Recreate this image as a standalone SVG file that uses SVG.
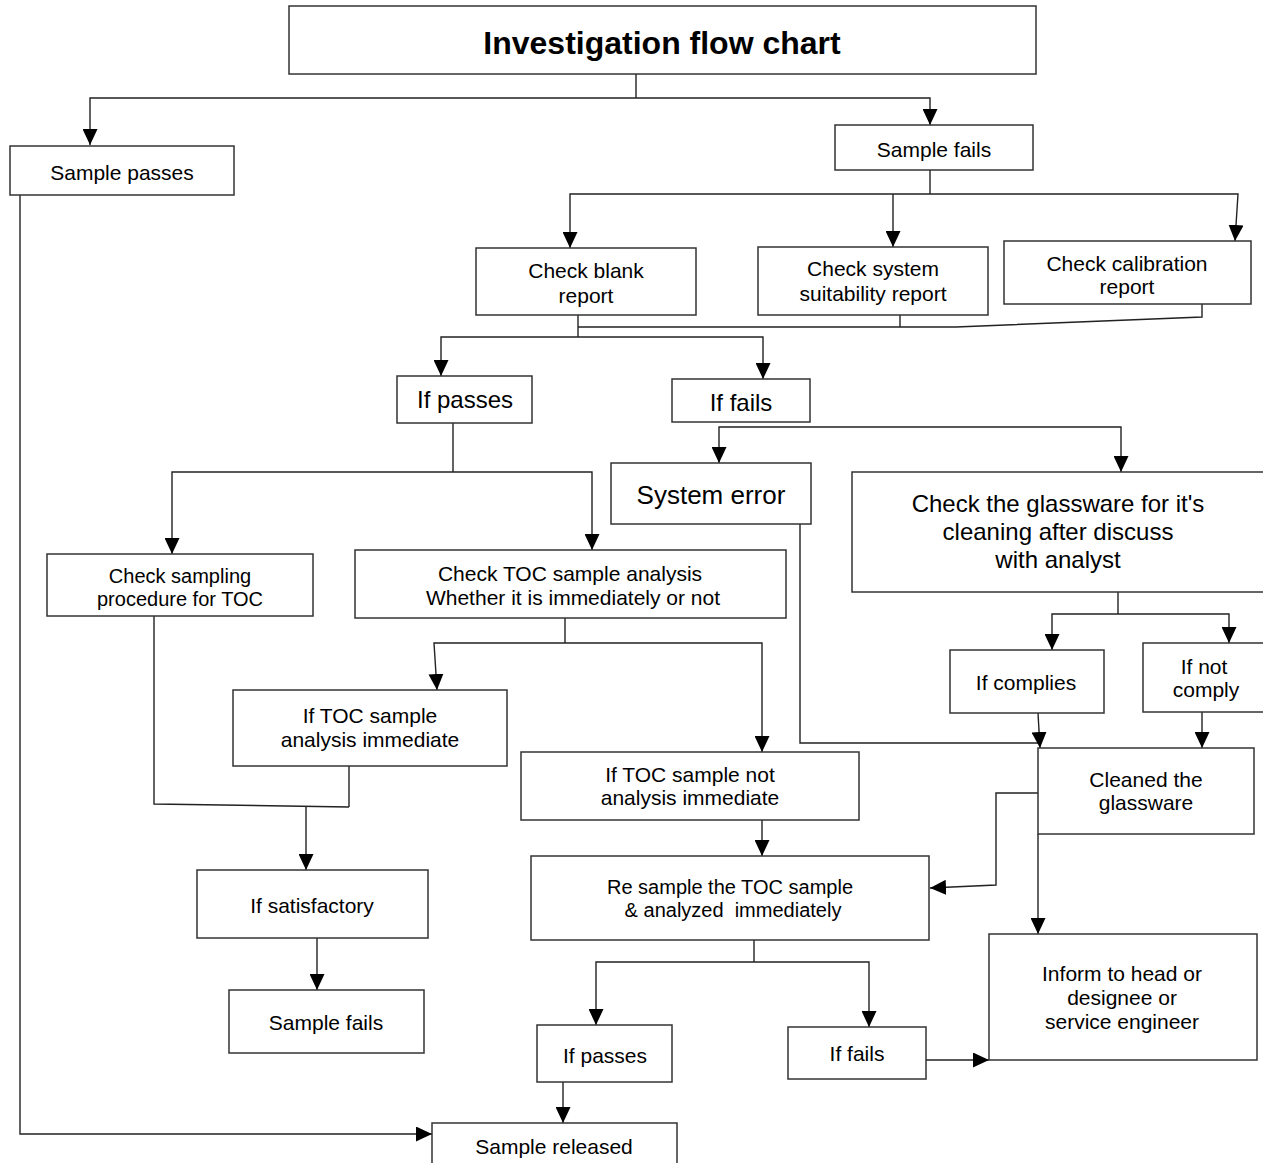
<svg xmlns="http://www.w3.org/2000/svg" width="1263" height="1163" viewBox="0 0 1263 1163">
<defs>
<marker id="arr" markerUnits="userSpaceOnUse" markerWidth="16" markerHeight="15" refX="16" refY="7.5" orient="auto">
<path d="M0,0 L16,7.5 L0,15 z" fill="#000"/>
</marker>
<style>
rect{fill:#fff;stroke:#333;stroke-width:1.5}
text{font-family:"Liberation Sans",Arial,sans-serif;font-size:21px;fill:#000;text-anchor:middle}
.c path{fill:none;stroke:#222;stroke-width:1.4}
.a{marker-end:url(#arr)}
</style>
</defs>
<rect x="0" y="0" width="1263" height="1163" style="fill:#fff;stroke:none"/>
<g class="c" id="connectors">
<path d="M636,74 V98"/>
<path class="a" d="M636,98 H90 V145"/>
<path class="a" d="M636,98 H930 V125"/>
<path class="a" d="M20,190 V1134 H432"/>
<path d="M930,170 V194"/>
<path class="a" d="M930,194 H570 V248"/>
<path class="a" d="M893,194 V247"/>
<path class="a" d="M930,194 H1238 L1235,241"/>
<path d="M578,315 V337"/>
<path d="M900,315 V327"/>
<path d="M1202,304 V317 L956,327 H578"/>
<path class="a" d="M578,337 H441 V376"/>
<path class="a" d="M578,337 H763 V379"/>
<path d="M453,423 V472"/>
<path class="a" d="M453,472 H172 V554"/>
<path class="a" d="M453,472 H592 V550"/>
<path class="a" d="M741,427 H719 V463"/>
<path class="a" d="M741,427 H1121 V472"/>
<path d="M565,618 V643"/>
<path class="a" d="M565,643 H434 L437,690"/>
<path class="a" d="M565,643 H762 V752"/>
<path d="M154,616 V804 L349,807"/>
<path d="M349,766 V807"/>
<path class="a" d="M306,806 V870"/>
<path class="a" d="M317,938 V990"/>
<path class="a" d="M762,820 V856"/>
<path d="M800,524 V743 H1040"/>
<path class="a" d="M1038,713 L1040,748"/>
<path d="M1118,592 V614"/>
<path class="a" d="M1118,614 H1052 V650"/>
<path class="a" d="M1118,614 H1229 V643"/>
<path class="a" d="M1202,712 V748"/>
<path class="a" d="M1038,793 H996 V885 L930,888"/>
<path class="a" d="M1038,834 V934"/>
<path d="M754,940 V962"/>
<path class="a" d="M754,962 H596 V1025"/>
<path class="a" d="M754,962 H869 V1027"/>
<path class="a" d="M926,1060 H989"/>
<path class="a" d="M563,1082 V1123"/>
</g>
<g id="title"><rect x="289" y="6" width="747" height="68"/><text x="662" y="54" style="font-weight:bold;font-size:32px">Investigation flow chart</text></g>
<g id="sample-passes"><rect x="10" y="146" width="224" height="49"/><text x="122" y="180">Sample passes</text></g>
<g id="sample-fails"><rect x="835" y="125" width="198" height="45"/><text x="934" y="157">Sample fails</text></g>
<g id="check-blank"><rect x="476" y="248" width="220" height="67"/><text x="586" y="278">Check blank</text><text x="586" y="303">report</text></g>
<g id="check-system"><rect x="758" y="247" width="230" height="68"/><text x="873" y="276">Check system</text><text x="873" y="301">suitability report</text></g>
<g id="check-calibration"><rect x="1004" y="241" width="247" height="63"/><text x="1127" y="271">Check calibration</text><text x="1127" y="294">report</text></g>
<g id="if-passes"><rect x="397" y="376" width="135" height="47"/><text x="465" y="408" style="font-size:24px">If passes</text></g>
<g id="if-fails"><rect x="672" y="379" width="138" height="43"/><text x="741" y="411" style="font-size:24px">If fails</text></g>
<g id="system-error"><rect x="611" y="463" width="200" height="61"/><text x="711" y="504" style="font-size:26px">System error</text></g>
<g id="check-glassware"><rect x="852" y="472" width="430" height="120"/><text x="1058" y="512" style="font-size:24px">Check the glassware for it's</text><text x="1058" y="540" style="font-size:24px">cleaning after discuss</text><text x="1058" y="568" style="font-size:24px">with analyst</text></g>
<g id="check-sampling"><rect x="47" y="554" width="266" height="62"/><text x="180" y="583" style="font-size:20px">Check sampling</text><text x="180" y="606" style="font-size:20px">procedure for TOC</text></g>
<g id="check-toc"><rect x="355" y="550" width="431" height="68"/><text x="570" y="581">Check TOC sample analysis</text><text x="573" y="605">Whether it is immediately or not</text></g>
<g id="if-toc-immediate"><rect x="233" y="690" width="274" height="76"/><text x="370" y="723">If TOC sample</text><text x="370" y="747">analysis immediate</text></g>
<g id="if-toc-not"><rect x="521" y="752" width="338" height="68"/><text x="690" y="782">If TOC sample not</text><text x="690" y="805">analysis immediate</text></g>
<g id="re-sample"><rect x="531" y="856" width="398" height="84"/><text x="730" y="894" style="font-size:20px">Re sample the TOC sample</text><text x="733" y="917" style="font-size:20px;white-space:pre">&amp; analyzed  immediately</text></g>
<g id="if-satisfactory"><rect x="197" y="870" width="231" height="68"/><text x="312" y="913">If satisfactory</text></g>
<g id="sample-fails-2"><rect x="229" y="990" width="195" height="63"/><text x="326" y="1030">Sample fails</text></g>
<g id="if-complies"><rect x="950" y="650" width="154" height="63"/><text x="1026" y="690">If complies</text></g>
<g id="if-not-comply"><rect x="1143" y="643" width="140" height="69"/><text x="1204" y="674">If not</text><text x="1206" y="697">comply</text></g>
<g id="cleaned"><rect x="1038" y="748" width="216" height="86"/><text x="1146" y="787">Cleaned the</text><text x="1146" y="810">glassware</text></g>
<g id="inform"><rect x="989" y="934" width="268" height="126"/><text x="1122" y="981">Inform to head or</text><text x="1122" y="1005">designee or</text><text x="1122" y="1029">service engineer</text></g>
<g id="if-passes-2"><rect x="537" y="1025" width="135" height="57"/><text x="605" y="1063">If passes</text></g>
<g id="if-fails-2"><rect x="788" y="1027" width="138" height="52"/><text x="857" y="1061">If fails</text></g>
<g id="sample-released"><rect x="432" y="1123" width="245" height="60"/><text x="554" y="1154">Sample released</text></g>
</svg>
